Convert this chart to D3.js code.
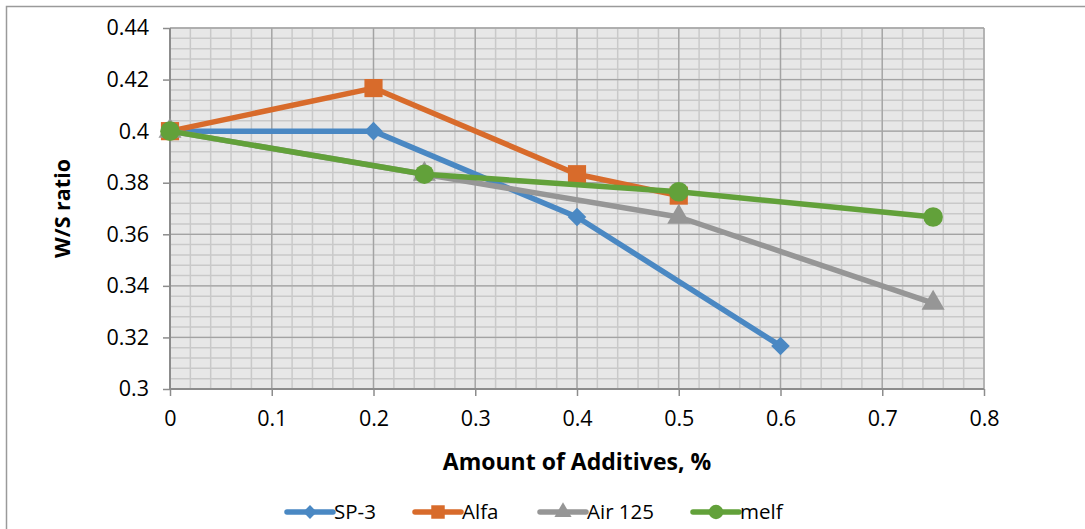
<!DOCTYPE html>
<html>
<head>
<meta charset="utf-8">
<script src="https://cdn.jsdelivr.net/npm/d3@7"></script>
<style>
  body { margin: 0; background: #fff; }
  svg { display: block; }
  text { font-family: "Open Sans", "Liberation Sans", sans-serif; fill: #000; }
</style>
</head>
<body>
<svg id="chart" width="1085" height="529"></svg>
<script>
// series
const seriesNames = ["SP-3", "Alfa", "Air 125", "melf"];
const sp3X = [0, 0.2, 0.4, 0.6];
const sp3Y = [0.4, 0.4, 0.3667, 0.3167];
const alfaX = [0, 0.2, 0.4, 0.5];
const alfaY = [0.4, 0.4167, 0.3833, 0.375];
const airX = [0, 0.25, 0.5, 0.75];
const airY = [0.4, 0.3833, 0.3667, 0.3333];
const melfX = [0, 0.25, 0.5, 0.75];
const melfY = [0.4, 0.3833, 0.3765, 0.3667];
const xTicks = [0, 0.1, 0.2, 0.3, 0.4, 0.5, 0.6, 0.7, 0.8];
const yTicks = [0.3, 0.32, 0.34, 0.36, 0.38, 0.4, 0.42, 0.44];

const colors = ["#4a88c3", "#d86b2b", "#969696", "#62a13a"];
const symbols = [d3.symbolDiamond2, d3.symbolSquare, d3.symbolTriangle, d3.symbolCircle];
const symSize = [220, 330, 230, 300];

const svg = d3.select("#chart");

// outer chart frame (runs off the right and bottom)
svg.append("path")
    .attr("d", "M6.5,540V6.5H1090")
    .attr("fill", "none").attr("stroke", "#9a9a9a").attr("stroke-width", 1.5);

const x = d3.scaleLinear().domain([0, 0.8]).range([170, 984]);
const y = d3.scaleLinear().domain([0.3, 0.44]).range([389, 28]);

// plot background
svg.append("rect")
    .attr("x", x(0)).attr("y", y(0.44))
    .attr("width", x(0.8) - x(0)).attr("height", y(0.3) - y(0.44))
    .attr("fill", "#e7e7e7");

// minor grid
const xMinor = d3.range(0, 81, 2).map(d => d / 100);
const yMinor = d3.range(0, 36).map(d => 0.3 + d * 0.004);
const grid = svg.append("g");
grid.selectAll(".xm").data(xMinor).join("line")
    .attr("x1", d => x(d)).attr("x2", d => x(d))
    .attr("y1", y(0.3)).attr("y2", y(0.44))
    .attr("stroke", "#c9c9c9").attr("stroke-width", 1.5);
grid.selectAll(".ym").data(yMinor).join("line")
    .attr("x1", x(0)).attr("x2", x(0.8))
    .attr("y1", d => y(d)).attr("y2", d => y(d))
    .attr("stroke", "#c9c9c9").attr("stroke-width", 1.5);
// major grid
grid.selectAll(".xM").data(xTicks).join("line")
    .attr("x1", d => x(d)).attr("x2", d => x(d))
    .attr("y1", y(0.3)).attr("y2", y(0.44))
    .attr("stroke", "#a3a3a3").attr("stroke-width", 1.3);
grid.selectAll(".yM").data(yTicks).join("line")
    .attr("x1", x(0)).attr("x2", x(0.8))
    .attr("y1", d => y(d)).attr("y2", d => y(d))
    .attr("stroke", "#a3a3a3").attr("stroke-width", 1.3);

// axes
const xAxis = svg.append("g").attr("transform", `translate(0,${y(0.3)})`)
    .call(d3.axisBottom(x).tickValues(xTicks).tickSize(7).tickPadding(15)
        .tickFormat(d => d === 0 ? "0" : d3.format(".1f")(d)));
const yAxis = svg.append("g").attr("transform", `translate(${x(0)},0)`)
    .call(d3.axisLeft(y).tickValues(yTicks).tickSize(7).tickPadding(14)
        .tickFormat(d => String(+d.toFixed(2))));
[xAxis, yAxis].forEach(a => {
    a.select(".domain").attr("stroke", "#8c8c8c").attr("stroke-width", 2);
    a.selectAll(".tick line").attr("stroke", "#8c8c8c").attr("stroke-width", 1.5);
    a.selectAll(".tick text").attr("font-size", 21.5).attr("fill", "#000")
        .attr("font-family", '"Open Sans", sans-serif');
});
yAxis.select(".domain").attr("d", `M0,${y(0.3)}V${y(0.44)}`);
xAxis.select(".domain").attr("d", `M${x(0)},0H${x(0.8)}`);

// titles
svg.append("text").attr("x", (x(0) + x(0.8)) / 2).attr("y", 470)
    .attr("text-anchor", "middle").attr("font-size", 23).attr("font-weight", "bold")
    .text("Amount of Additives, %");
svg.append("text")
    .attr("transform", `translate(70,${(y(0.3) + y(0.44)) / 2}) rotate(-90)`)
    .attr("text-anchor", "middle").attr("font-size", 21.5).attr("font-weight", "bold")
    .text("W/S ratio");

// series
const xs = [sp3X, alfaX, airX, melfX];
const ys = [sp3Y, alfaY, airY, melfY];
const line = d3.line().x(d => x(d[0])).y(d => y(d[1]));
const plot = svg.append("g");
seriesNames.forEach((name, i) => {
    const pts = xs[i].map((v, j) => [v, ys[i][j]]);
    const g = plot.append("g");
    g.append("path").datum(pts).attr("d", line)
        .attr("fill", "none").attr("stroke", colors[i]).attr("stroke-width", 5.5)
        .attr("stroke-linejoin", "round");
    g.selectAll("path.m").data(pts).join("path").attr("class", "m")
        .attr("transform", d => `translate(${x(d[0])},${y(d[1])})`)
        .attr("d", d3.symbol(symbols[i], symSize[i]))
        .attr("fill", colors[i]);
});

// legend
const legX = [287, 415, 540, 693];
const legY = 512;
const leg = svg.append("g");
seriesNames.forEach((name, i) => {
    const g = leg.append("g").attr("transform", `translate(${legX[i]},${legY})`);
    g.append("line").attr("x1", 0).attr("x2", 46)
        .attr("stroke", colors[i]).attr("stroke-width", 5.5).attr("stroke-linecap", "round");
    g.append("path").attr("transform", "translate(23,0)")
        .attr("d", d3.symbol(symbols[i], symSize[i] * 0.55)).attr("fill", colors[i]);
    g.append("text").attr("x", 47).attr("dy", "0.35em").attr("font-size", 20.5).text(name);
});
</script>
</body>
</html>
